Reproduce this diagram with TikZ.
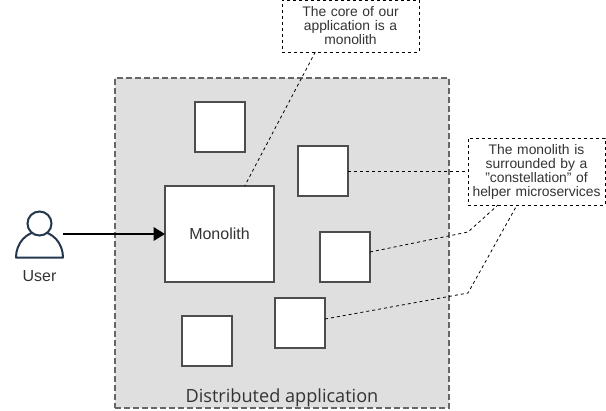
\documentclass[tikz,border=0pt]{standalone}
\usepackage{fontspec}
\setmainfont{Liberation Sans}
\newfontfamily\regionfont{Open Sans}
\usetikzlibrary{arrows.meta,positioning}
\definecolor{regiongray}{HTML}{DFDFDF}
\definecolor{edgegray}{HTML}{4D4D4D}
\definecolor{dashgray}{HTML}{666666}
\definecolor{textgray}{HTML}{333333}
\definecolor{usernavy}{HTML}{23374D}
\tikzset{
  node distance=0mm,
  >=Triangle,
  every node/.style={outer sep=0mm,inner sep=0mm,text=textgray}
}
\tikzset{region/.style={
    draw=dashgray,
    fill=regiongray,
    line width=1.5pt,
    dash pattern=on 4.5pt off 2.25pt,
    minimum width=250.5pt,
    minimum height=247.5pt
  }}
\tikzset{service/.style={
    draw=edgegray,
    fill=white,
    line width=1.5pt,
    minimum size=37.5pt
  }}
\tikzset{monolith/.style={
    service,
    minimum width=81.75pt,
    minimum height=72pt,
    font=\fontsize{12}{14}\selectfont
  }}
\tikzset{note/.style={
    draw=black,
    line width=0.6pt,
    dash pattern=on 2.25pt off 2.25pt,
    minimum width=102.75pt,
    minimum height=#1,
    text width=100pt,
    align=center,
    font=\fontsize{10.4}{10.5}\selectfont
  },
  note/.default=39pt}
\tikzset{link/.style={
    draw=black,
    line width=0.6pt,
    dash pattern=on 2.25pt off 2.25pt
  }}
\tikzset{inregion/.style 2 args={below right=#2 and #1 of Region.north west,anchor=north west}}

\begin{document}
\begin{tikzpicture}
  \useasboundingbox (0,0) rectangle (454.5pt,-307.5pt);

  \node (Region) [region,anchor=north west] at (86.25pt,-58.5pt) {};
  \node (RegionLabel) [above=1pt of Region.south,anchor=south,
    font=\regionfont\fontsize{13.6}{15}\selectfont] {Distributed application};

  \node (Monolith) [monolith,inregion={37.5pt}{81pt}] {\raisebox{1pt}{Monolith}};
  \node (SvcA) [service,inregion={60pt}{18pt}]       {};
  \node (SvcB) [service,inregion={137.25pt}{51pt}]   {};
  \node (SvcC) [service,inregion={153.75pt}{115.5pt}] {};
  \node (SvcD) [service,inregion={120pt}{165pt}]     {};
  \node (SvcE) [service,inregion={50.25pt}{178.5pt}] {};

  \node (CoreNote)  [note,above right=19.5pt and 125.25pt of Region.north west,anchor=south west]
    {The core of our\\application is a\\monolith};
  \node (HelperNote) [note=50.25pt,below right=45pt and 14.25pt of Region.north east,anchor=north west]
    {The monolith is\\surrounded by a\\"constellation" of\\helper microservices};

  \node (UserIcon)  [minimum size=35.25pt,left=76.5pt of Monolith.west,anchor=east] {};
  \node (UserLabel) [below=9.5pt of UserIcon.south,anchor=north,font=\fontsize{12}{14}\selectfont] {User};

  \draw [usernavy,line width=1.5pt,line join=round] (UserIcon.south west) -- (UserIcon.south east)
    arc [start angle=0,end angle=180,x radius=17.625pt,y radius=19.5pt] -- cycle;
  \draw [usernavy,line width=1.5pt,fill=white] ([yshift=-9.75pt] UserIcon.north) circle (9pt);

  \draw [->,line width=1.5pt,-{Triangle[length=8.5pt,width=10pt]}] (UserIcon.east) -- (Monolith.west);

  \coordinate (BendC) at ([yshift=-20.25pt] HelperNote.south west);
  \coordinate (BendD) at ([yshift=-66pt] HelperNote.south west);

  \draw [link] ([xshift=-26.4pt] CoreNote.south) -- ([xshift=18.9pt] Monolith.north);
  \draw [link] (SvcB.east) -- (SvcB.east-|HelperNote.west);
  \draw [link] ([yshift=3.75pt] SvcC.east) -- (BendC) -- ([xshift=-28.9pt] HelperNote.south);
  \draw [link] ([yshift=3pt] SvcD.east) -- (BendD) -- ([xshift=-14.6pt] HelperNote.south);
\end{tikzpicture}
\end{document}
